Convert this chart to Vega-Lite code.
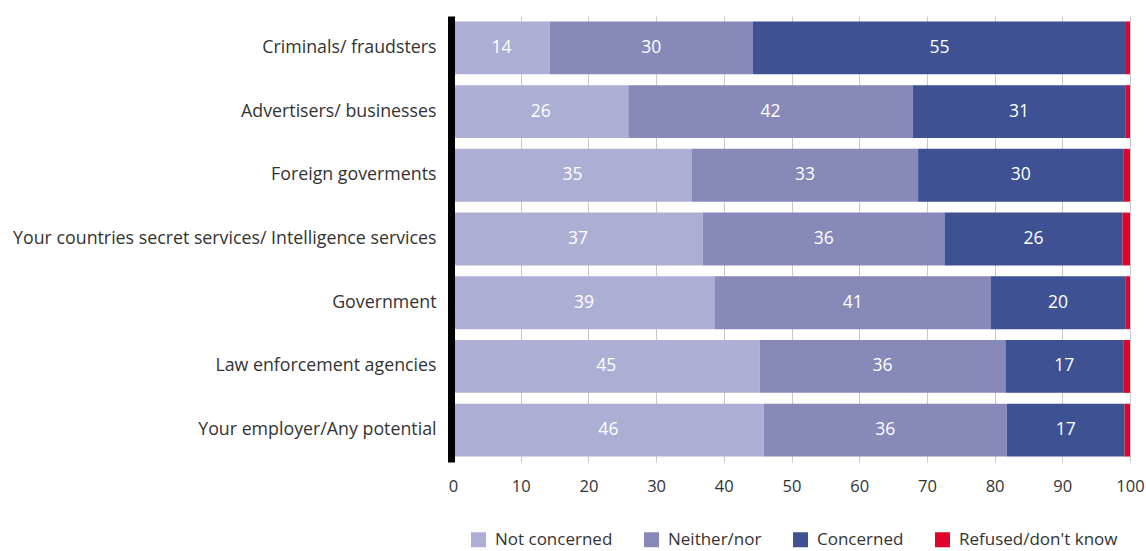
{
  "$schema": "https://vega.github.io/schema/vega-lite/v6.json",
  "width": 677,
  "height": 446,
  "autosize": {"type": "none"},
  "padding": {"left": 453, "top": 16, "right": 16, "bottom": 89},
  "config": {"view": {"stroke": null}, "font": "Open Sans"},
  "data": {
    "values": [
      {"category": "Criminals/ fraudsters", "group": "Not concerned", "ord": 1, "value": 14.3},
      {"category": "Criminals/ fraudsters", "group": "Neither/nor", "ord": 2, "value": 30.0},
      {"category": "Criminals/ fraudsters", "group": "Concerned", "ord": 3, "value": 55.1},
      {"category": "Criminals/ fraudsters", "group": "Refused/don't know", "ord": 4, "value": 0.6},
      {"category": "Advertisers/ businesses", "group": "Not concerned", "ord": 1, "value": 25.9},
      {"category": "Advertisers/ businesses", "group": "Neither/nor", "ord": 2, "value": 42.0},
      {"category": "Advertisers/ businesses", "group": "Concerned", "ord": 3, "value": 31.4},
      {"category": "Advertisers/ businesses", "group": "Refused/don't know", "ord": 4, "value": 0.7},
      {"category": "Foreign goverments ", "group": "Not concerned", "ord": 1, "value": 35.3},
      {"category": "Foreign goverments ", "group": "Neither/nor", "ord": 2, "value": 33.4},
      {"category": "Foreign goverments ", "group": "Concerned", "ord": 3, "value": 30.3},
      {"category": "Foreign goverments ", "group": "Refused/don't know", "ord": 4, "value": 1.0},
      {"category": "Your countries secret services/ Intelligence services", "group": "Not concerned", "ord": 1, "value": 36.9},
      {"category": "Your countries secret services/ Intelligence services", "group": "Neither/nor", "ord": 2, "value": 35.7},
      {"category": "Your countries secret services/ Intelligence services", "group": "Concerned", "ord": 3, "value": 26.3},
      {"category": "Your countries secret services/ Intelligence services", "group": "Refused/don't know", "ord": 4, "value": 1.1},
      {"category": "Government", "group": "Not concerned", "ord": 1, "value": 38.7},
      {"category": "Government", "group": "Neither/nor", "ord": 2, "value": 40.7},
      {"category": "Government", "group": "Concerned", "ord": 3, "value": 19.9},
      {"category": "Government", "group": "Refused/don't know", "ord": 4, "value": 0.7},
      {"category": "Law enforcement agencies", "group": "Not concerned", "ord": 1, "value": 45.3},
      {"category": "Law enforcement agencies", "group": "Neither/nor", "ord": 2, "value": 36.3},
      {"category": "Law enforcement agencies", "group": "Concerned", "ord": 3, "value": 17.4},
      {"category": "Law enforcement agencies", "group": "Refused/don't know", "ord": 4, "value": 1.0},
      {"category": "Your employer/Any potential", "group": "Not concerned", "ord": 1, "value": 45.9},
      {"category": "Your employer/Any potential", "group": "Neither/nor", "ord": 2, "value": 35.9},
      {"category": "Your employer/Any potential", "group": "Concerned", "ord": 3, "value": 17.4},
      {"category": "Your employer/Any potential", "group": "Refused/don't know", "ord": 4, "value": 0.8}
    ]
  },
  "transform": [
    {"stack": "value", "groupby": ["category"], "sort": [{"field": "ord", "order": "ascending"}], "as": ["x0", "x1"]},
    {"calculate": "(datum.x0 + datum.x1) / 2", "as": "mid"}
  ],
  "encoding": {
    "y": {
      "field": "category",
      "type": "nominal",
      "sort": ["Criminals/ fraudsters", "Advertisers/ businesses", "Foreign goverments ", "Your countries secret services/ Intelligence services", "Government", "Law enforcement agencies", "Your employer/Any potential"],
      "scale": {"paddingInner": 0.17, "paddingOuter": 0.085},
      "axis": {
        "title": null,
        "zindex": 1,
        "offset": 2,
        "domainColor": "#000000",
        "domainWidth": 7,
        "ticks": false,
        "grid": false,
        "labelFontSize": 17.8,
        "labelColor": "#333333",
        "labelPadding": 15,
        "labelLimit": 600
      }
    }
  },
  "layer": [
    {
      "mark": {"type": "bar"},
      "encoding": {
        "x": {
          "field": "x0",
          "type": "quantitative",
          "scale": {"domain": [0, 100], "nice": false},
          "axis": {
            "title": null,
            "values": [0, 10, 20, 30, 40, 50, 60, 70, 80, 90, 100],
            "grid": true,
            "gridColor": "#c8c8c8",
            "gridWidth": 1,
            "domain": false,
            "ticks": false,
            "labelFontSize": 16.5,
            "labelColor": "#333333",
            "labelPadding": 16,
            "labelFlush": false
          }
        },
        "x2": {"field": "x1"},
        "color": {
          "field": "group",
          "type": "nominal",
          "scale": {
            "domain": ["Not concerned", "Neither/nor", "Concerned", "Refused/don't know"],
            "range": ["#adaed3", "#8789b8", "#3e5193", "#e0042d"]
          },
          "legend": {
            "title": null,
            "orient": "none",
            "direction": "horizontal",
            "legendX": 17,
            "legendY": 515,
            "symbolType": "square",
            "symbolSize": 225,
            "symbolStrokeWidth": 0,
            "labelFontSize": 17,
            "labelLimit": 400,
            "labelColor": "#333333",
            "labelOffset": 8,
            "columnPadding": 30
          }
        }
      }
    },
    {
      "transform": [{"filter": "datum.ord < 4"}],
      "mark": {"type": "text", "color": "white", "fontSize": 17.5},
      "encoding": {
        "x": {"field": "mid", "type": "quantitative"},
        "text": {"field": "value", "type": "quantitative", "format": ".0f"}
      }
    }
  ]
}
